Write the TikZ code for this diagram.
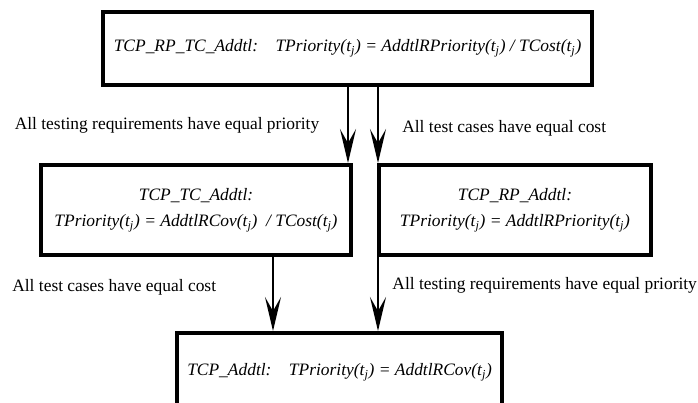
\documentclass[tikz,border=0pt]{standalone}
\usepackage{fontspec}
\setmainfont{Liberation Serif}
\usetikzlibrary{arrows.meta}
\newcommand\tj{\textit{t}\textsubscript{\textit{j}}}

\begin{document}
\begin{tikzpicture}[
  rule/.style={draw, line width=2.8pt, inner sep=0pt, align=center, font=\fontsize{12.4}{19}\selectfont\itshape},
  lbl/.style={inner sep=0pt, font=\fontsize{12.4}{15}\selectfont},
  arr/.style={line width=2pt, -{Stealth[length=0.85cm,width=0.4cm,inset=0.35cm]}}
]
\useasboundingbox (0,0) rectangle (17.45,-10.075);
\clip (0,0) rectangle (17.45,-10.075);
\node[rule, minimum width=12.225cm, minimum height=1.825cm] (tcprptc) at (8.69,-1.21) {TCP\_RP\_TC\_Addtl:\quad TPriority(\tj) = AddtlRPriority(\tj) / TCost(\tj)};
\node[rule, minimum width=7.75cm, minimum height=2.25cm] (tctc) at (4.9,-5.25) {TCP\_TC\_Addtl:\\TPriority(\tj) = AddtlRCov(\tj) \ / TCost(\tj)};
\node[rule, minimum width=6.8cm, minimum height=2.25cm] (tcrp) at (12.875,-5.25) {TCP\_RP\_Addtl:\\TPriority(\tj) = AddtlRPriority(\tj)};
\node[rule, minimum width=8.125cm, minimum height=1.95cm] (tcp) at (8.49,-9.3) {TCP\_Addtl:\quad TPriority(\tj) = AddtlRCov(\tj)};
\coordinate (xa) at (8.7,0);
\coordinate (xb) at (9.45,0);
\coordinate (xc) at (6.825,0);
\draw[arr] (tcprptc.south -| xa) -- (tctc.north -| xa);
\draw[arr] (tcprptc.south -| xb) -- (tcrp.north -| xb);
\draw[arr] (tctc.south -| xc) -- (tcp.north -| xc);
\draw[arr] (tcrp.south -| xb) -- (tcp.north -| xb);
\node[lbl] (eqprio1) at (4.175,-3.125) {All testing requirements have equal priority};
\node[lbl, anchor=west] (eqcost1) at (10.05,-3.2) {All test cases have equal cost};
\node[lbl, anchor=west] (eqcost2) at (0.3,-7.175) {All test cases have equal cost};
\node[lbl, anchor=east] (eqprio2) at (17.43,-7.125) {All testing requirements have equal priority};
\end{tikzpicture}
\end{document}
